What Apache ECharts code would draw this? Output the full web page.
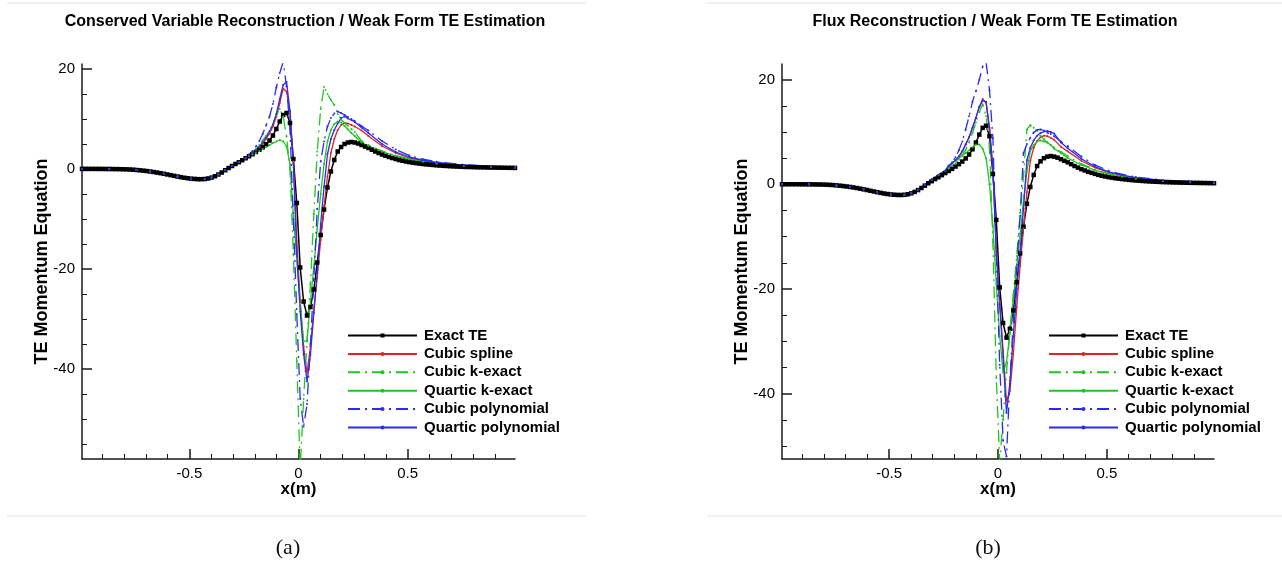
<!DOCTYPE html>
<html>
<head>
<meta charset="utf-8">
<script src="https://cdn.jsdelivr.net/npm/echarts@6.0.0/dist/echarts.min.js"></script>
<style>
html, body { margin: 0; padding: 0; background: #fff; }
#chart { width: 1282px; height: 567px; }
</style>
</head>
<body>
<div id="chart"></div>
<script>
// Truncation error of the momentum equation on a 128-cell mesh over [-1, 1].
// Cells are indexed k = -64 .. 63; cell k is centred at (k + 0.5) / 64.

const seriesNames = ['Exact TE', 'Cubic spline', 'Cubic k-exact', 'Quartic k-exact', 'Cubic polynomial', 'Quartic polynomial'];
const panelTitles = ['Conserved Variable Reconstruction / Weak Form TE Estimation', 'Flux Reconstruction / Weak Form TE Estimation'];
const panelCaptions = ['(a)', '(b)'];
const xMajorTicks = [-0.5, 0, 0.5];
const xMinorTicks = [-0.9, -0.8, -0.7, -0.6, -0.4, -0.3, -0.2, -0.1, 0.1, 0.2, 0.3, 0.4, 0.6, 0.7, 0.8, 0.9];
const yMajorTicks = [-40, -20, 0, 20];
const yMinorTicksA = [-55, -50, -45, -35, -30, -25, -15, -10, -5, 5, 10, 15];
const yMinorTicksB = [-50, -45, -35, -30, -25, -15, -10, -5, 5, 10, 15];

// Cells sampled by the reconstructed curves (coarser away from the shock)
const curveCells = [-64, -56, -48, -44, -40, -36, -32, -28, -26, -24, -22, -20, -18, -16,
  -15, -14, -13, -12, -11, -10, -9, -8, -7, -6, -5, -4, -3, -2, -1, 0,
  1, 2, 3, 4, 5, 6, 7, 8, 9, 10, 11, 12, 13, 14, 15, 16,
  18, 20, 24, 28, 32, 36, 40, 48, 56, 63];

// Exact TE at every cell, k = -64 .. 63 (same in both panels)
const exactTE = [
  0.02, 0.02, 0.02, 0.02, 0.02, 0.01, 0.01, 0.0,
  0.0, -0.01, -0.02, -0.03, -0.05, -0.07, -0.1, -0.14,
  -0.2, -0.26, -0.33, -0.41, -0.5, -0.6, -0.71, -0.83,
  -0.96, -1.09, -1.23, -1.37, -1.5, -1.63, -1.75, -1.85,
  -1.93, -1.99, -2.03, -2.04, -2.0, -1.9, -1.72, -1.45,
  -1.1, -0.7, -0.25, 0.2, 0.6, 1.0, 1.35, 1.75,
  2.15, 2.55, 2.95, 3.4, 3.85, 4.35, 4.95, 5.7,
  6.7, 8.0, 9.5, 10.8, 11.2, 9.2, 2.0, -6.8,
  -19.7, -26.5, -29.3, -27.6, -24.1, -18.7, -13.2, -8.1,
  -3.7, -0.5, 1.8, 3.5, 4.4, 5.0, 5.3, 5.4,
  5.3, 5.1, 4.8, 4.5, 4.2, 3.85, 3.5, 3.2,
  2.9, 2.65, 2.4, 2.2, 2.0, 1.8, 1.65, 1.5,
  1.38, 1.27, 1.17, 1.08, 1.0, 0.93, 0.86, 0.8,
  0.74, 0.69, 0.64, 0.6, 0.56, 0.52, 0.49, 0.46,
  0.43, 0.41, 0.39, 0.37, 0.35, 0.33, 0.32, 0.3,
  0.29, 0.28, 0.27, 0.26, 0.25, 0.24, 0.23, 0.22
];

// (a) Conserved variable reconstruction, values at curveCells
const splineA = [0.02, 0.0, -0.2, -0.5, -0.96, -1.5, -1.93, -2.0, -1.72, -1.1, -0.25, 0.6, 1.35, 2.15,
  2.6, 3.1, 3.7, 4.3, 5.0, 6.0, 7.1, 8.5, 10.5, 13.2, 16.1, 15.5, 11.5, 1.5, -14.5, -26.5,
  -35.5, -40.8, -35.5, -28.0, -21.5, -14.2, -7.5, -1.5, 3.2, 6.0, 7.8, 8.8, 9.2, 9.1, 8.8, 8.5,
  7.7, 6.6, 4.6, 3.2, 2.2, 1.6, 1.2, 0.7, 0.45, 0.3];
const cubicKExactA = [0.02, 0.0, -0.2, -0.5, -0.96, -1.5, -1.93, -2.0, -1.72, -1.1, -0.25, 0.6, 1.35, 2.15,
  2.8, 3.3, 4.0, 4.8, 5.7, 6.6, 7.6, 9.0, 10.8, 12.0, 10.5, 6.5, 0.0, -17.0, -38.5, -60.0,
  -46.0, -34.5, -23.0, -9.0, 3.5, 12.0, 16.4, 15.0, 13.8, 12.8, 11.0, 9.9, 9.2, 8.6, 8.0, 7.4,
  5.6, 4.8, 3.6, 2.7, 2.0, 1.5, 1.1, 0.66, 0.43, 0.3];
const quarticKExactA = [0.02, 0.0, -0.2, -0.5, -0.96, -1.5, -1.93, -2.0, -1.72, -1.1, -0.25, 0.6, 1.35, 2.15,
  2.6, 2.9, 3.2, 3.6, 4.0, 4.4, 4.8, 5.2, 5.5, 5.8, 5.5, 4.5, 1.0, -9.5, -18.0, -27.0,
  -34.5, -34.3, -26.5, -19.5, -12.0, -5.0, 1.0, 5.5, 7.8, 9.0, 9.5, 9.3, 8.6, 7.9, 7.2, 6.6,
  5.3, 4.6, 3.5, 2.6, 1.95, 1.45, 1.1, 0.65, 0.42, 0.3];
const cubicPolyA = [0.02, 0.0, -0.2, -0.5, -0.96, -1.5, -1.93, -2.0, -1.72, -1.1, -0.25, 0.6, 1.35, 2.15,
  2.9, 3.6, 4.5, 5.6, 7.0, 8.7, 10.5, 13.0, 16.3, 19.2, 21.4, 16.5, 8.0, -10.0, -29.0, -46.0,
  -51.5, -47.0, -35.0, -22.0, -8.0, 1.5, 5.5, 8.5, 10.2, 11.1, 11.5, 11.2, 10.8, 10.4, 10.0, 9.6,
  8.6, 7.7, 5.6, 3.9, 2.7, 1.95, 1.45, 0.85, 0.55, 0.4];
const quarticPolyA = [0.02, 0.0, -0.2, -0.5, -0.96, -1.5, -1.93, -2.0, -1.72, -1.1, -0.25, 0.6, 1.35, 2.15,
  2.7, 3.2, 3.8, 4.5, 5.3, 6.3, 7.5, 8.9, 11.0, 14.0, 16.8, 17.4, 11.5, 1.0, -17.0, -28.5,
  -37.0, -42.5, -37.2, -28.8, -20.8, -11.0, -3.5, 3.0, 6.0, 7.8, 9.1, 10.2, 10.5, 10.1, 9.8, 9.4,
  8.3, 7.2, 5.0, 3.4, 2.4, 1.75, 1.3, 0.75, 0.5, 0.35];

// (b) Flux reconstruction, values at curveCells
const splineB = [0.02, 0.0, -0.2, -0.5, -0.96, -1.5, -1.93, -2.0, -1.7, -1.05, -0.1, 0.9, 1.8, 2.6,
  3.5, 4.0, 4.6, 5.3, 6.3, 7.6, 9.0, 10.8, 12.7, 14.8, 16.3, 15.5, 10.5, 3.0, -12.5, -22.5,
  -31.8, -41.5, -39.5, -32.5, -23.5, -15.6, -8.4, -1.5, 4.5, 7.0, 8.3, 9.0, 9.3, 9.2, 8.9, 8.5,
  7.2, 6.3, 4.5, 3.2, 2.3, 1.65, 1.2, 0.7, 0.45, 0.3];
const cubicKExactB = [0.02, 0.0, -0.2, -0.5, -0.96, -1.5, -1.93, -2.0, -1.7, -1.05, -0.1, 0.9, 1.8, 2.6,
  3.0, 3.5, 4.0, 4.7, 5.6, 6.6, 8.0, 9.8, 11.8, 13.8, 15.3, 13.0, 7.0, -11.0, -37.0, -53.0,
  -45.0, -36.0, -28.0, -21.0, -13.7, -5.5, 1.6, 10.5, 11.3, 10.8, 10.2, 9.3, 8.6, 8.0, 7.5, 7.0,
  6.2, 5.4, 3.9, 2.8, 2.0, 1.5, 1.1, 0.65, 0.42, 0.3];
const quarticKExactB = [0.02, 0.0, -0.2, -0.5, -0.96, -1.5, -1.93, -2.0, -1.7, -1.05, -0.1, 0.9, 1.8, 2.6,
  3.6, 4.1, 4.5, 5.0, 5.5, 6.0, 6.5, 7.1, 7.6, 7.6, 6.8, 5.0, 0.0, -8.0, -19.0, -29.0,
  -36.0, -34.0, -28.5, -22.0, -15.8, -10.0, -3.0, 2.5, 6.4, 7.5, 8.2, 8.4, 8.2, 8.0, 7.5, 6.8,
  6.0, 5.0, 3.7, 2.7, 2.0, 1.5, 1.1, 0.65, 0.42, 0.3];
const cubicPolyB = [0.02, 0.0, -0.2, -0.5, -0.96, -1.5, -1.93, -2.0, -1.7, -1.05, -0.1, 0.9, 1.8, 2.6,
  3.5, 4.2, 5.2, 6.5, 8.2, 10.5, 13.0, 15.8, 17.8, 20.0, 22.5, 23.3, 18.0, 8.8, -13.5, -34.5,
  -49.0, -52.0, -37.5, -26.0, -16.0, -6.0, 6.0, 7.7, 8.9, 9.9, 10.4, 10.5, 10.3, 9.9, 9.6, 9.2,
  8.2, 7.3, 5.3, 3.7, 2.6, 1.9, 1.4, 0.8, 0.55, 0.4];
const quarticPolyB = [0.02, 0.0, -0.2, -0.5, -0.96, -1.5, -1.93, -2.0, -1.7, -1.05, -0.1, 0.9, 1.8, 2.6,
  3.5, 4.0, 4.6, 5.3, 6.3, 7.6, 9.0, 10.8, 12.7, 14.8, 16.0, 15.8, 10.8, 3.0, -13.0, -23.0,
  -33.0, -43.7, -38.0, -29.0, -20.0, -13.0, -4.6, 4.6, 7.0, 8.4, 9.3, 9.8, 10.1, 10.2, 10.0, 9.7,
  8.0, 6.9, 4.9, 3.4, 2.4, 1.75, 1.3, 0.75, 0.5, 0.35];

const FONT = "'Liberation Sans', Arial, Helvetica, sans-serif";
const X_EDGE = 0.9921875; // centre of the outermost cell
const RED = '#e02424', GREEN = '#22c422', BLUE = '#2b2bf2';
const DASH_DOT = [12, 5, 2, 5];

const cellCentre = k => (k + 0.5) / 64;
const exactCells = [];
for (let k = -64; k < 64; k++) exactCells.push(k);
const toPairs = (cells, vals) => cells.map((k, i) => [cellCentre(k), vals[i]]);

const lineStyles = [
  { color: '#000', type: 'solid', width: 1.5, symbol: 'rect', size: 4.5 },
  { color: RED, type: 'solid', width: 1.3, symbol: 'circle', size: 2 },
  { color: GREEN, type: DASH_DOT, width: 1.3, symbol: 'circle', size: 2 },
  { color: GREEN, type: 'solid', width: 1.3, symbol: 'circle', size: 2 },
  { color: BLUE, type: DASH_DOT, width: 1.3, symbol: 'circle', size: 2 },
  { color: BLUE, type: 'solid', width: 1.3, symbol: 'circle', size: 2 }
];

const panels = [
  { left: 82, width: 433, yMin: -58, yMax: 21, yMinor: yMinorTicksA,
    curves: [exactTE, splineA, cubicKExactA, quarticKExactA, cubicPolyA, quarticPolyA],
    legendLeft: 342, titleX: 305, captionX: 288, rule: [7, 586] },
  { left: 782, width: 432, yMin: -52.5, yMax: 23, yMinor: yMinorTicksB,
    curves: [exactTE, splineB, cubicKExactB, quarticKExactB, cubicPolyB, quarticPolyB],
    legendLeft: 1043, titleX: 995, captionX: 988, rule: [707, 1282] }
];

const axisColor = '#1a1a1a';
const grids = [], xAxes = [], yAxes = [], series = [], legends = [], graphics = [];

panels.forEach((p, pi) => {
  grids.push({ left: p.left, top: 64, width: p.width, height: 395 });

  const xCommon = { gridIndex: pi, type: 'value', min: -X_EDGE, max: X_EDGE, position: 'bottom', splitLine: { show: false } };
  xAxes.push(Object.assign({}, xCommon, {
    name: 'x(m)', nameLocation: 'middle', nameGap: 22, nameMoveOverlap: false,
    nameTextStyle: { fontFamily: FONT, fontSize: 17, fontWeight: 'bold', color: '#000', verticalAlign: 'top' },
    axisLine: { show: true, onZero: false, lineStyle: { color: axisColor, width: 1.5 } },
    axisTick: { show: true, inside: true, length: 10, customValues: xMajorTicks, lineStyle: { color: axisColor, width: 1.5 } },
    axisLabel: { show: true, customValues: xMajorTicks, margin: 7, fontFamily: FONT, fontSize: 15, color: '#000' }
  }));
  xAxes.push(Object.assign({}, xCommon, {
    axisLine: { show: false, onZero: false },
    axisTick: { show: true, inside: true, length: 5, customValues: xMinorTicks, lineStyle: { color: axisColor, width: 1 } },
    axisLabel: { show: false }
  }));

  const yCommon = { gridIndex: pi, type: 'value', min: p.yMin, max: p.yMax, position: 'left', splitLine: { show: false } };
  yAxes.push(Object.assign({}, yCommon, {
    name: 'TE Momentum Equation', nameLocation: 'middle', nameGap: 31, nameMoveOverlap: false,
    nameTextStyle: { fontFamily: FONT, fontSize: 18, fontWeight: 'bold', color: '#000' },
    axisLine: { show: true, onZero: false, lineStyle: { color: axisColor, width: 1.5 } },
    axisTick: { show: true, inside: true, length: 10, customValues: yMajorTicks, lineStyle: { color: axisColor, width: 1.5 } },
    axisLabel: { show: true, customValues: yMajorTicks, margin: 7, fontFamily: FONT, fontSize: 15, color: '#000' }
  }));
  yAxes.push(Object.assign({}, yCommon, {
    axisLine: { show: false, onZero: false },
    axisTick: { show: true, inside: true, length: 5, customValues: p.yMinor, lineStyle: { color: axisColor, width: 1 } },
    axisLabel: { show: false }
  }));

  p.curves.forEach((vals, si) => {
    const st = lineStyles[si];
    const cells = si === 0 ? exactCells : curveCells;
    series.push({
      type: 'line', name: seriesNames[si],
      xAxisIndex: pi * 2, yAxisIndex: pi * 2,
      data: toPairs(cells, vals),
      symbol: st.symbol, symbolSize: st.size, showSymbol: true,
      lineStyle: { color: st.color, width: st.width, type: st.type },
      itemStyle: { color: st.color },
      clip: true, silent: true, animation: false
    });
  });

  legends.push({
    orient: 'vertical', left: p.legendLeft, top: 323,
    itemWidth: 69, itemHeight: 5, itemGap: 3.4,
    selectedMode: false, data: seriesNames,
    textStyle: { fontFamily: FONT, fontSize: 15, fontWeight: 'bold', color: '#000', lineHeight: 15, padding: [0, 0, 0, 2] }
  });

  graphics.push(
    { type: 'text', x: p.titleX, y: 22, silent: true,
      style: { text: panelTitles[pi], font: 'bold 16px ' + FONT, fill: '#000', textAlign: 'center', textVerticalAlign: 'middle' } },
    { type: 'line', silent: true, shape: { x1: p.rule[0], y1: 3, x2: p.rule[1], y2: 3 }, style: { stroke: '#e3e3e3', lineWidth: 1 } },
    { type: 'line', silent: true, shape: { x1: p.rule[0], y1: 516, x2: p.rule[1], y2: 516 }, style: { stroke: '#e3e3e3', lineWidth: 1 } },
    { type: 'text', x: p.captionX, y: 548, silent: true,
      style: { text: panelCaptions[pi], font: "22px 'Liberation Serif', 'DejaVu Serif', serif", fill: '#111', textAlign: 'center', textVerticalAlign: 'middle' } }
  );
});

const chart = echarts.init(document.getElementById('chart'), null, { renderer: 'canvas' });
chart.setOption({
  backgroundColor: '#fff',
  animation: false,
  grid: grids,
  xAxis: xAxes,
  yAxis: yAxes,
  legend: legends,
  series: series,
  graphic: graphics
});
</script>
</body>
</html>
